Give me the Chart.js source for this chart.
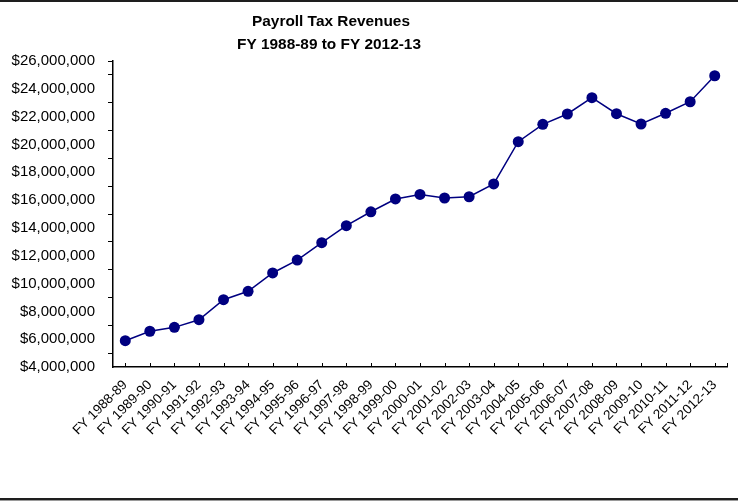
<!DOCTYPE html>
<html>
<head>
<meta charset="utf-8">
<title>Payroll Tax Revenues</title>
<script src="https://cdn.jsdelivr.net/npm/chart.js@4"></script>
<style>
  html, body { margin: 0; padding: 0; background: #fff; }
  #wrap { position: relative; width: 738px; height: 501px; }
</style>
</head>
<body>
<div id="wrap"><canvas id="chart" width="738" height="501"></canvas></div>
<script>
// Fiscal years shown on the horizontal axis
const fiscalYears = [
  'FY 1988-89', 'FY 1989-90', 'FY 1990-91', 'FY 1991-92', 'FY 1992-93',
  'FY 1993-94', 'FY 1994-95', 'FY 1995-96', 'FY 1996-97', 'FY 1997-98',
  'FY 1998-99', 'FY 1999-00', 'FY 2000-01', 'FY 2001-02', 'FY 2002-03',
  'FY 2003-04', 'FY 2004-05', 'FY 2005-06', 'FY 2006-07', 'FY 2007-08',
  'FY 2008-09', 'FY 2009-10', 'FY 2010-11', 'FY 2011-12', 'FY 2012-13'
];

// Payroll tax revenue per fiscal year, in dollars
const revenues = [
  5890000, 6570000, 6850000, 7400000, 8840000,
  9440000, 10760000, 11690000, 12940000, 14160000,
  15160000, 16080000, 16410000, 16150000, 16240000,
  17160000, 20200000, 21450000, 22190000, 23360000,
  22210000, 21470000, 22240000, 23070000, 24940000
];

// Value axis range
const axisMin = 4000000;
const axisMax = 26000000;
const labelStep = 2000000;
const minorStep = 1000000;

const titleLines = ['Payroll Tax Revenues', 'FY 1988-89 to FY 2012-13'];

const FONT = '"Liberation Sans", Arial, Helvetica, sans-serif';
const NAVY = '#000080';

const money = v => '$' + Math.round(v).toLocaleString('en-US');

// Frame lines and the two-line heading
const framePlugin = {
  id: 'frame',
  beforeDraw(chart) {
    const c = chart.ctx;
    c.save();
    c.fillStyle = '#fff';
    c.fillRect(0, 0, chart.width, chart.height);
    c.fillStyle = '#1e1e1e';
    c.fillRect(0, 0, chart.width, 2);
    c.fillRect(0, chart.height - 3, chart.width, 2);
    c.fillStyle = '#9a9a9a';
    c.fillRect(0, chart.height - 1, chart.width, 1);
    c.restore();
  },
  afterDraw(chart) {
    const c = chart.ctx;
    c.save();
    c.fillStyle = '#000';
    c.font = 'bold 15.4px ' + FONT;
    c.textAlign = 'center';
    c.textBaseline = 'alphabetic';
    c.fillText(titleLines[0], 331, 26.3);
    c.fillText(titleLines[1], 329, 49);
    c.restore();
  }
};

// Short tick marks pointing up into the plot at each category, and at the right end
const innerTicksPlugin = {
  id: 'innerTicks',
  afterDatasetsDraw(chart) {
    const xs = chart.scales.x;
    const c = chart.ctx;
    const y0 = chart.chartArea.bottom;
    c.save();
    c.strokeStyle = '#000';
    c.lineWidth = 1;
    c.beginPath();
    const xsPix = fiscalYears.map((_, i) => xs.getPixelForTick(i));
    xsPix.push(chart.chartArea.right);
    xsPix.forEach(px => {
      const x = Math.round(px) + 0.5;
      c.moveTo(x, y0);
      c.lineTo(x, y0 - 4);
    });
    c.stroke();
    c.restore();
  }
};

new Chart(document.getElementById('chart'), {
  type: 'line',
  data: {
    labels: fiscalYears,
    datasets: [{
      data: revenues,
      borderColor: NAVY,
      backgroundColor: NAVY,
      borderWidth: 1.5,
      pointRadius: 5.5,
      pointHoverRadius: 5.5,
      pointBackgroundColor: NAVY,
      pointBorderColor: NAVY,
      pointBorderWidth: 0,
      tension: 0,
      fill: false
    }]
  },
  options: {
    responsive: false,
    animation: false,
    events: [],
    layout: { padding: { top: 61, right: 11, bottom: 0, left: 0 } },
    plugins: {
      legend: { display: false },
      title: { display: false },
      tooltip: { enabled: false }
    },
    scales: {
      x: {
        type: 'category',
        offset: true,
        afterFit(scale) { scale.height = 134; },
        grid: { drawOnChartArea: false, drawTicks: false },
        border: { display: true, color: '#000', width: 1.5 },
        ticks: {
          color: '#000',
          font: { family: FONT, size: 13.5 },
          minRotation: 45,
          maxRotation: 45,
          autoSkip: false,
          padding: 10
        }
      },
      y: {
        min: axisMin,
        max: axisMax,
        afterFit(scale) { scale.width = 113; },
        grid: {
          drawOnChartArea: false,
          drawTicks: true,
          tickLength: 5,
          tickColor: ctx => {
            const v = ctx.tick ? ctx.tick.value : 0;
            return (v % labelStep !== 0 || v === axisMax) ? '#000' : 'rgba(0,0,0,0)';
          }
        },
        border: { display: true, color: '#000', width: 1.5 },
        ticks: {
          stepSize: minorStep,
          autoSkip: false,
          color: '#000',
          font: { family: FONT, size: 15 },
          padding: 13,
          callback: v => (v % labelStep === 0 ? money(v) : '')
        }
      }
    }
  },
  plugins: [framePlugin, innerTicksPlugin]
});
</script>
</body>
</html>
